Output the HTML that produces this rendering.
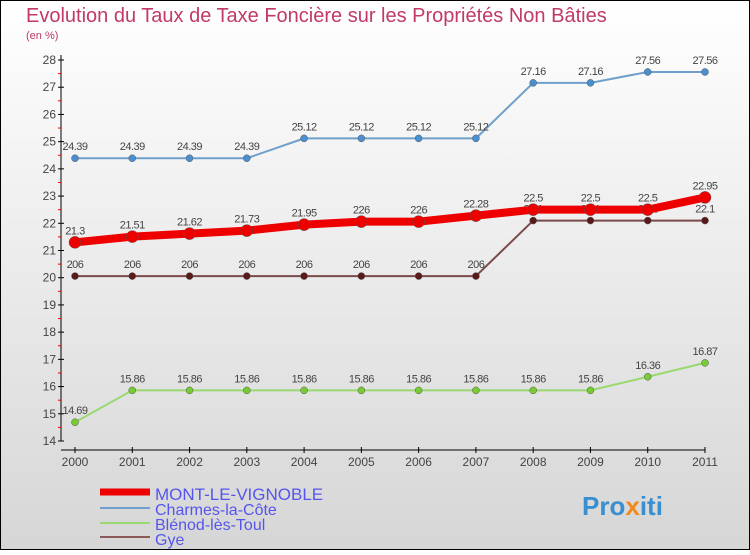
<!DOCTYPE html>
<html><head><meta charset="utf-8"><style>
body{margin:0}
#c{width:750px;height:550px;position:relative;font-family:"Liberation Sans",sans-serif;}
</style></head><body>
<div id="c">
<svg id="s" width="750" height="550" xmlns="http://www.w3.org/2000/svg">
<defs><linearGradient id="bg" x1="0" y1="0" x2="0" y2="1"><stop offset="0" stop-color="#ffffff"/><stop offset="1" stop-color="#d6d6d6"/></linearGradient></defs>
<rect x="0.5" y="0.5" width="749" height="549" fill="url(#bg)" stroke="#000"/>
<text x="26" y="22" font-size="20" fill="#c0396a">Evolution du Taux de Taxe Foncière sur les Propriétés Non Bâties</text>
<text x="26" y="39" font-size="11" fill="#c0396a">(en %)</text>
<g id="axes"></g><g id="series"></g>
<g>
<line x1="100" y1="492" x2="150" y2="492" stroke="#e00" stroke-width="7"/>
<text x="155" y="500" font-size="17" fill="#5555ee">MONT-LE-VIGNOBLE</text>
<line x1="100" y1="508" x2="150" y2="508" stroke="#6fa0cc" stroke-width="2"/>
<text x="155" y="515" font-size="16" fill="#5555ee">Charmes-la-Côte</text>
<line x1="100" y1="523" x2="150" y2="523" stroke="#9ad870" stroke-width="2"/>
<text x="155" y="530" font-size="16" fill="#5555ee">Blénod-lès-Toul</text>
<line x1="100" y1="537" x2="150" y2="537" stroke="#8a5a5a" stroke-width="2"/>
<text x="155" y="545" font-size="16" fill="#5555ee">Gye</text>
</g>
<text x="582" y="515" font-size="26" font-weight="bold" fill="#3a8fd0">Pro<tspan fill="#f08a1c">x</tspan>iti</text>
</svg>
</div>
<script>
const years=[2000,2001,2002,2003,2004,2005,2006,2007,2008,2009,2010,2011];
const yTicks=[14,15,16,17,18,19,20,21,22,23,24,25,26,27,28];
const mont=[21.3,21.51,21.62,21.73,21.95,22.06,22.06,22.28,22.5,22.5,22.5,22.95];
const charmes=[24.39,24.39,24.39,24.39,25.12,25.12,25.12,25.12,27.16,27.16,27.56,27.56];
const blenod=[14.69,15.86,15.86,15.86,15.86,15.86,15.86,15.86,15.86,15.86,16.36,16.87];
const gye=[20.06,20.06,20.06,20.06,20.06,20.06,20.06,20.06,22.1,22.1,22.1,22.1];
const NS="http://www.w3.org/2000/svg";
const xS=i=>75+i*(630/11);
const yS=v=>441-(v-14)*(381/14);
function mk(t,a,p){const e=document.createElementNS(NS,t);for(const k in a)e.setAttribute(k,a[k]);p.appendChild(e);return e;}
const ax=document.getElementById('axes');
let l=mk('line',{x1:61,y1:55,x2:61,y2:441,stroke:'#000'},ax);


l=mk('line',{x1:61,y1:450,x2:705,y2:450,stroke:'#000'},ax);


yTicks.forEach(v=>{const y=yS(v);
mk('line',{x1:58,y1:y,x2:64,y2:y,stroke:'#000'},ax);
if(v<28)mk('line',{x1:58,y1:y-13.6,x2:61,y2:y-13.6,stroke:'#e00'},ax);
const t=mk('text',{x:56,y:y+4,'font-size':12,fill:'#444','text-anchor':'end'},ax);t.textContent=v;

});
years.forEach((yr,i)=>{const x=xS(i);
mk('line',{x1:x,y1:447,x2:x,y2:453,stroke:'#000'},ax);
const t=mk('text',{x:x,y:466,'font-size':12,fill:'#444','text-anchor':'middle'},ax);t.textContent=yr;

});
const sg=document.getElementById('series');
function series(d,name,col,w,r,dot,lab){
const g=mk('g',{},sg);


mk('polyline',{points:d.map((v,i)=>xS(i)+','+yS(v)).join(' '),fill:'none',stroke:col,'stroke-width':w,'stroke-linejoin':'round'},g);
d.forEach((v,i)=>{const c=mk('circle',{cx:xS(i),cy:yS(v),r:r,fill:dot,stroke:'#555','stroke-width':0.5},g);


const t=mk('text',{x:xS(i),y:yS(v)-8,'font-size':11,fill:'#444','text-anchor':'middle','letter-spacing':'-0.5'},g);
t.textContent=String(v).replace('.0','');

});}
series(gye,'gye','#7a4a4a',2,3.5,'#5a1a1a');
series(blenod,'blenod','#9ad870',2,3.5,'#77cc33');
series(charmes,'charmes','#6fa0cc',2,3.5,'#4a90d0');
series(mont,'mont','#ee0000',8,6,'#ee0000');
</script>
</body></html>
